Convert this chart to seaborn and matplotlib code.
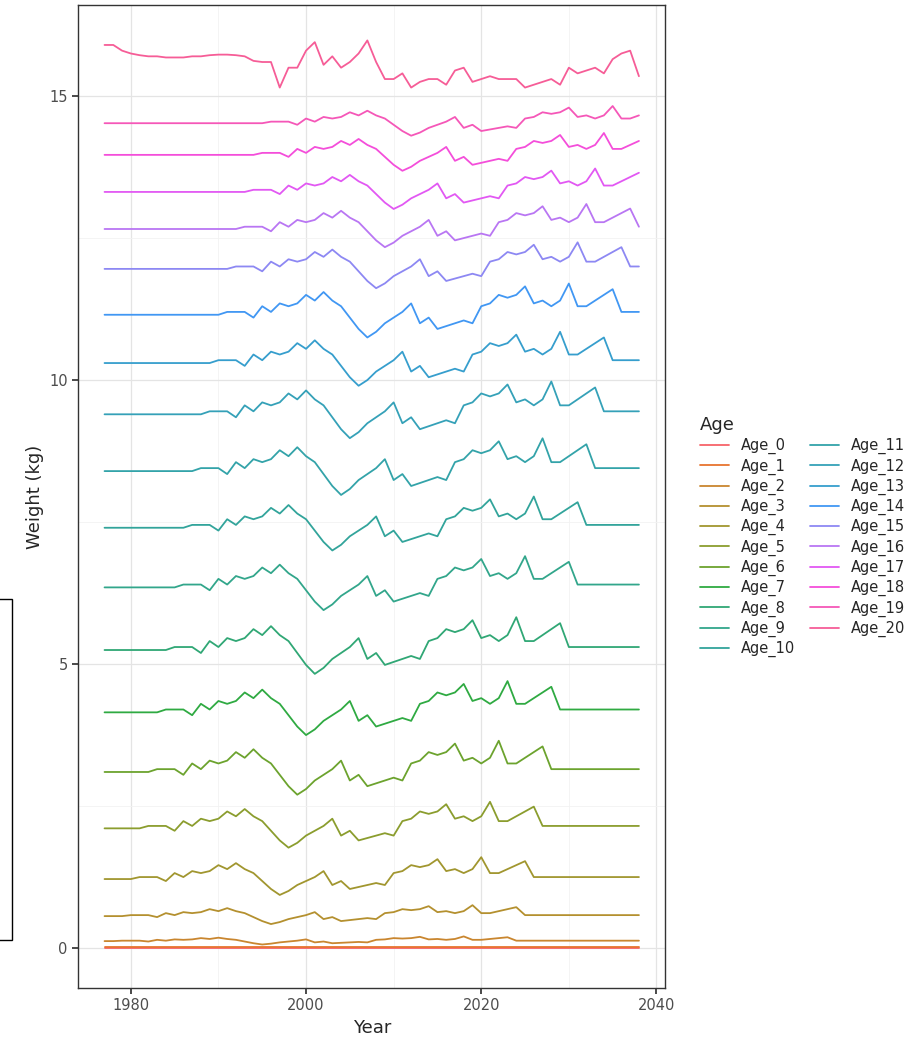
import numpy as np
import pandas as pd
import matplotlib
matplotlib.use("Agg")
import matplotlib.pyplot as plt
import seaborn as sns

years = list(range(1977, 2039))

# mean level (kg) of each age line
levels = [0.0, 0.02, 0.13, 0.58, 1.25, 2.15, 3.15, 4.2, 5.3, 6.4, 7.45,
          8.45, 9.45, 10.35, 11.2, 12.0, 12.7, 13.35, 14.0, 14.55]
# size of the wiggles relative to the Age_9 line
amps = [0.0, 0.0, 0.15, 0.35, 0.7, 0.85, 1.0, 1.0, 1.05, 1.0, 1.0,
        1.05, 1.05, 1.0, 1.0, 0.85, 0.8, 0.75, 0.7, 0.55]

# Age_9 line, 1977-2038; its wiggles follow cohorts (year - age)
age9 = [6.35, 6.35, 6.35, 6.35, 6.35, 6.35, 6.35, 6.35, 6.35, 6.4,
        6.4, 6.4, 6.3, 6.5, 6.4, 6.55, 6.5, 6.55, 6.7, 6.6,
        6.75, 6.6, 6.5, 6.3, 6.1, 5.95, 6.05, 6.2, 6.3, 6.4,
        6.55, 6.2, 6.3, 6.1, 6.15, 6.2, 6.25, 6.2, 6.5, 6.55,
        6.7, 6.65, 6.7, 6.85, 6.55, 6.6, 6.5, 6.6, 6.9, 6.5,
        6.5, 6.6, 6.7, 6.8, 6.4, 6.4, 6.4, 6.4, 6.4, 6.4,
        6.4, 6.4]

# plus group, drawn on its own
age20 = [15.9, 15.9, 15.8, 15.75, 15.72, 15.7, 15.7, 15.68, 15.68, 15.68,
         15.7, 15.7, 15.72, 15.73, 15.73, 15.72, 15.7, 15.62, 15.6, 15.6,
         15.15, 15.5, 15.5, 15.8, 15.95, 15.55, 15.7, 15.5, 15.6, 15.75,
         15.98, 15.6, 15.3, 15.3, 15.4, 15.15, 15.25, 15.3, 15.3, 15.2,
         15.45, 15.5, 15.25, 15.3, 15.35, 15.3, 15.3, 15.3, 15.15, 15.2,
         15.25, 15.3, 15.2, 15.5, 15.4, 15.45, 15.5, 15.4, 15.65, 15.75,
         15.8, 15.35]

cohort_anom = {y - 9: v - 6.4 for y, v in zip(years, age9)}
first_c, last_c = min(cohort_anom), max(cohort_anom)

rows = []
for a in range(20):
    for y in years:
        c = min(max(y - a, first_c), last_c)
        rows.append((y, f"Age_{a}", levels[a] + amps[a] * cohort_anom[c]))
for y, v in zip(years, age20):
    rows.append((y, "Age_20", v))
df = pd.DataFrame(rows, columns=["Year", "Age", "Weight"])

ages = [f"Age_{a}" for a in range(21)]
pal = sns.husl_palette(21, h=0.03, s=0.9, l=0.62)

sns.set_theme(style="whitegrid")
fig = plt.figure(figsize=(9.1, 10.42), dpi=100)
ax = fig.add_axes([0.086, 0.052, 0.645, 0.943])
sns.lineplot(data=df, x="Year", y="Weight", hue="Age", hue_order=ages,
             palette=pal, linewidth=1.3, ax=ax, legend=False)

ax.set_xlim(1974, 2041)
ax.set_ylim(-0.7, 16.6)
ax.set_xticks([1980, 2000, 2020, 2040])
ax.set_xticks([1990, 2010, 2030], minor=True)
ax.set_yticks([0, 5, 10, 15])
ax.set_yticks([2.5, 7.5, 12.5], minor=True)
ax.grid(which="major", color="#e4e4e4", linewidth=0.9)
ax.grid(which="minor", color="#f2f2f2", linewidth=0.6)
for s in ax.spines.values():
    s.set_color("#333333")
    s.set_linewidth(1.0)
ax.tick_params(which="major", length=4, color="#333333", labelsize=10.5,
               labelcolor="#4d4d4d", bottom=True, left=True)
ax.set_xlabel("Year", fontsize=13)
ax.set_ylabel("Weight (kg)", fontsize=13)

handles = [plt.Line2D([], [], color=pal[i], lw=1.3) for i in range(21)]
fig.legend(handles, ages, title="Age", loc="center left",
           bbox_to_anchor=(0.755, 0.485), ncol=2, frameon=False,
           fontsize=10.5, title_fontsize=13, handlelength=2.0,
           columnspacing=1.0, labelspacing=0.28, alignment="left")

# partial box at the left edge of the original picture
fig.patches.append(plt.Rectangle((-0.01, 0.098), 0.023, 0.327, transform=fig.transFigure,
                                 fill=False, edgecolor="black", linewidth=1.0))

fig.savefig("out.png", dpi=100, facecolor="white")
